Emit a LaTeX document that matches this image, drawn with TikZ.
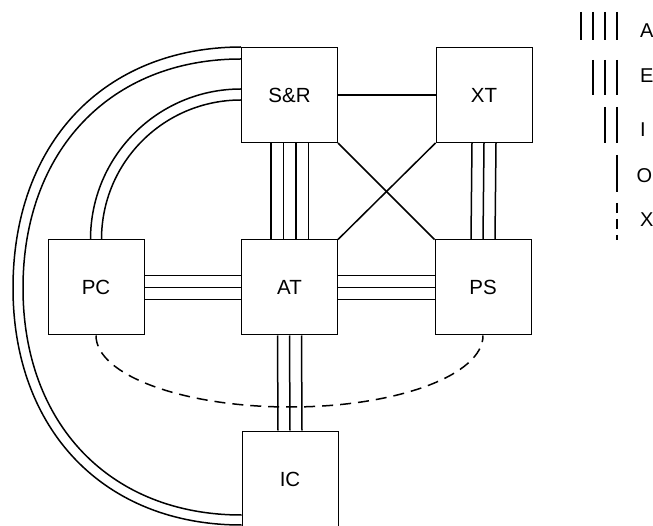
\documentclass[tikz,border=0pt]{standalone}
\usepackage{fontspec}
\setmainfont{Liberation Sans}
\begin{document}
\begin{tikzpicture}[x=1pt,y=-1pt,
  box/.style={draw, line width=1pt, minimum width=96pt, minimum height=95pt, inner sep=0pt, font=\fontsize{20.5}{24}\selectfont},
  conn/.style={line width=1.5pt},
  dashconn/.style={line width=1.5pt, dash pattern=on 11pt off 7pt},
  legtext/.style={anchor=west, inner sep=0pt, font=\fontsize{20}{24}\selectfont}]
\useasboundingbox (0,0) rectangle (653,526);
\clip (0,0) rectangle (653,526);
% boxes
\node[box] (SR) at (289.5,95) {\raisebox{-2pt}{S\&R}};
\node[box] (XT) at (484,95) {\raisebox{-2pt}{XT}};
\node[box] (PC) at (96,287.5) {PC};
\node[box] (AT) at (289.5,287.5) {AT};
\node[box] (PS) at (483,287.5) {PS};
\node[box, minimum height=100pt] (IC) at (290,481) {};
\node[font=\fontsize{20.5}{24}\selectfont] (ICt) at (290,479) {IC};
% S&R - XT (O)
\draw[conn] (SR.east) -- (XT.west);
% crossing (O)
\draw[conn] (SR.south east) -- (PS.north west);
\draw[conn] (XT.south west) -- (AT.north east);
% S&R - AT (A, four lines)
\foreach \d in {-18.75,-6.25,6.25,18.75}
  \draw[conn] ([xshift=\d pt]SR.south) -- ([xshift=\d pt]AT.north);
% XT - PS (E)
\foreach \d in {-12,0,12}
  \draw[conn] ([xshift=\d pt]XT.south) -- ([xshift=\d pt]PS.north);
% PC - AT (E)
\foreach \d in {-12,0,12}
  \draw[conn] ([yshift=\d pt]PC.east) -- ([yshift=\d pt]AT.west);
% AT - PS (E)
\foreach \d in {-12,0,12}
  \draw[conn] ([yshift=\d pt]AT.east) -- ([yshift=\d pt]PS.west);
% AT - IC (E)
\foreach \d in {-12,0,12}
  \draw[conn] ([xshift=\d pt]AT.south) -- ([xshift=\d pt]IC.north);
% S&R - PC (I)
\draw[conn] ([yshift=6pt]SR.west) .. controls (158,89) and (90.5,156) .. ([xshift=-5.5pt]PC.north);
\draw[conn] ([yshift=-5pt]SR.west) .. controls (164,100) and (101.5,162) .. ([xshift=5.5pt]PC.north);
% S&R - IC (I)
\draw[conn] (SR.north west) .. controls (104,47.5) and (13,143) .. (13,288)
  .. controls (13,430) and (104,525) .. ([yshift=-44pt]IC.west);
\draw[conn] ([yshift=36pt]SR.west) .. controls (110,59) and (23,151) .. (23,288)
  .. controls (23,424) and (110,515) .. ([yshift=-34pt]IC.west);
% PC - PS (X)
\draw[dashconn] (PC.south) .. controls (96,375) and (183,407) .. (290,407)
  .. controls (397,407) and (483,375) .. (PS.south);
% legend
\foreach \x in {581,593,605,617} \draw[conn] (\x,12) -- (\x,40);
\foreach \x in {593,605,617} \draw[conn] (\x,60) -- (\x,95);
\foreach \x in {605,617} \draw[conn] (\x,107) -- (\x,143);
\draw[conn] (617,155) -- (617,192);
\draw[line width=1.5pt, dash pattern=on 10pt off 6pt] (617,203) -- (617,240);
\node[legtext] (LA) at (640,31) {A};
\node[legtext] (LE) at (640,76) {E};
\node[legtext] (LI) at (640,130) {I};
\node[legtext] (LO) at (636.5,176) {O};
\node[legtext] (LX) at (640,220) {X};
\end{tikzpicture}
\end{document}
